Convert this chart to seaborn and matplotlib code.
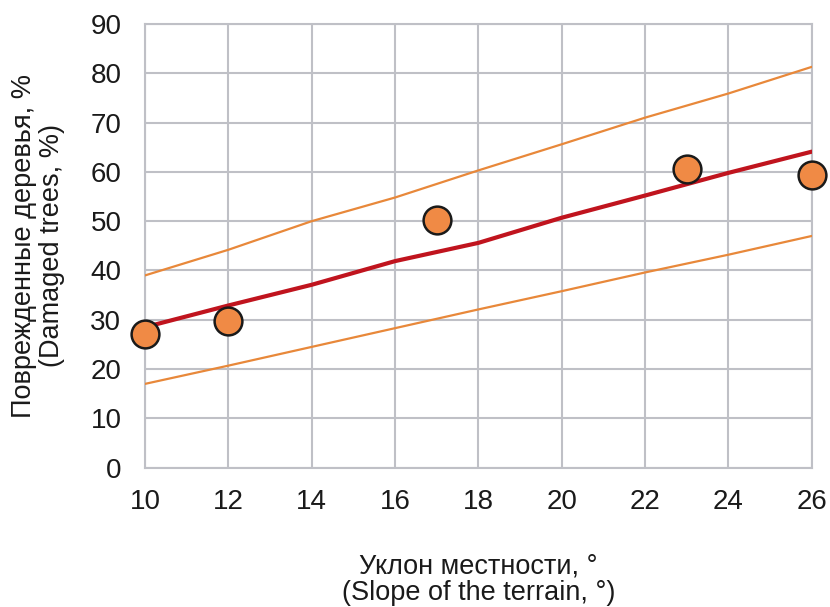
import matplotlib
matplotlib.use("Agg")
import matplotlib.pyplot as plt
import seaborn as sns
import pandas as pd

# Observed share of damaged trees vs. terrain slope
slope_obs = [10, 12, 17, 23, 26]
damaged_obs = [27.1, 29.7, 50.3, 60.5, 59.3]

# Regression line and its confidence band
slope_fit = [10, 12, 14, 16, 18, 20, 22, 24, 26]
fit_mid = [28.5, 32.9, 37.1, 41.9, 45.6, 50.7, 55.2, 59.8, 64.1]
fit_upper = [39.0, 44.2, 50.0, 54.8, 60.3, 65.6, 71.0, 75.9, 81.3]
fit_lower = [17.0, 20.7, 24.5, 28.3, 32.1, 35.8, 39.6, 43.2, 47.0]

x_ticks = [10, 12, 14, 16, 18, 20, 22, 24, 26]
y_ticks = [0, 10, 20, 30, 40, 50, 60, 70, 80, 90]

sns.set_theme(style="white")
plt.rcParams["font.family"] = ["Liberation Sans", "DejaVu Sans"]

fig = plt.figure(figsize=(8.3, 6.07), dpi=100)
ax = fig.add_axes([0.1747, 0.2295, 0.8033, 0.731])

fit_df = pd.DataFrame({"x": slope_fit, "mid": fit_mid,
                       "upper": fit_upper, "lower": fit_lower})
obs_df = pd.DataFrame({"x": slope_obs, "y": damaged_obs})

band_color = "#E8883A"
sns.lineplot(data=fit_df, x="x", y="upper", ax=ax, color=band_color, lw=1.6, zorder=3)
sns.lineplot(data=fit_df, x="x", y="lower", ax=ax, color=band_color, lw=1.6, zorder=3)
sns.lineplot(data=fit_df, x="x", y="mid", ax=ax, color="#C0141E", lw=3.0, zorder=4)
sns.scatterplot(data=obs_df, x="x", y="y", ax=ax, s=400, color="#F08A45",
                edgecolor="#1a1a1a", linewidth=1.8, zorder=5, clip_on=False)

ax.set_xlim(10, 26)
ax.set_ylim(0, 90)
ax.set_xticks(x_ticks)
ax.set_yticks(y_ticks)
ax.grid(True, color="#BFC0C6", lw=1.5)
ax.set_axisbelow(True)
for sp in ax.spines.values():
    sp.set_color("#BFC0C6")
    sp.set_linewidth(1.5)
ax.tick_params(axis="both", length=0, labelsize=20, colors="#1a1a1a")
ax.tick_params(axis="x", pad=15)
ax.tick_params(axis="y", pad=17)

ax.set_xlabel("Уклон местности, °\n(Slope of the terrain, °)", fontsize=19.5,
              labelpad=28, linespacing=1.05, color="#1a1a1a")
ax.set_ylabel("Поврежденные деревья, %\n(Damaged trees, %)", fontsize=19.5,
              labelpad=18, linespacing=1.1, color="#1a1a1a")

fig.savefig("out.png", dpi=100)
